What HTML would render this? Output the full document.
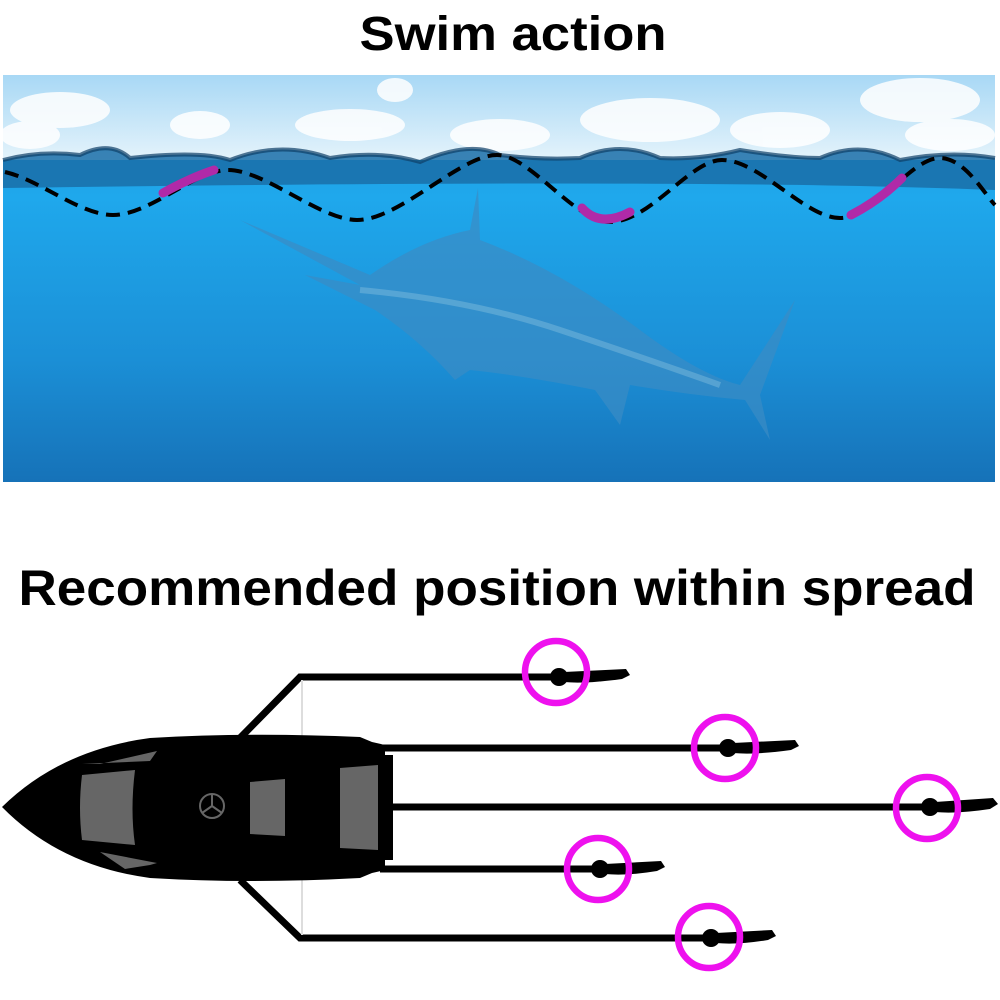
<!DOCTYPE html>
<html><head><meta charset="utf-8"><style>
html,body{margin:0;padding:0;background:#fff;}
svg{display:block}
</style></head><body>
<svg width="1000" height="1000" viewBox="0 0 1000 1000" xmlns="http://www.w3.org/2000/svg">
<defs>
<linearGradient id="sky" x1="0" y1="0" x2="0" y2="1">
<stop offset="0" stop-color="#a8d8f5"/><stop offset="1" stop-color="#e4f3fb"/>
</linearGradient>
<linearGradient id="water" x1="0" y1="0" x2="0" y2="1">
<stop offset="0" stop-color="#1c8fd6"/><stop offset="0.3" stop-color="#1fa8ec"/><stop offset="0.7" stop-color="#1b8fd6"/><stop offset="1" stop-color="#1672b8"/>
</linearGradient>
</defs>
<text x="513" y="50" text-anchor="middle" font-family="Liberation Sans, sans-serif" font-weight="bold" font-size="48" textLength="307" lengthAdjust="spacingAndGlyphs">Swim action</text>
<rect x="3" y="75" width="992" height="407" fill="url(#water)"/>
<rect x="3" y="75" width="992" height="85" fill="url(#sky)"/>
<g fill="#fff" opacity="0.85">
<ellipse cx="60" cy="110" rx="50" ry="18"/><ellipse cx="30" cy="135" rx="30" ry="14"/><ellipse cx="200" cy="125" rx="30" ry="14"/><ellipse cx="350" cy="125" rx="55" ry="16"/>
<ellipse cx="395" cy="90" rx="18" ry="12"/><ellipse cx="500" cy="135" rx="50" ry="16"/><ellipse cx="650" cy="120" rx="70" ry="22"/>
<ellipse cx="780" cy="130" rx="50" ry="18"/><ellipse cx="920" cy="100" rx="60" ry="22"/><ellipse cx="950" cy="135" rx="45" ry="16"/>
</g>
<path d="M3,160 Q40,150 80,155 Q110,140 130,158 Q200,150 230,160 Q280,140 330,158 Q380,150 420,162 Q470,140 500,155 Q540,160 580,158 Q620,140 660,158 Q700,160 740,150 Q790,158 820,158 Q860,140 900,160 Q950,150 995,158 L995,190 Q700,178 3,188 Z" fill="#1a6ea8" opacity="0.85"/>
<path d="M3,160 Q40,150 80,155 Q110,140 130,158 Q200,150 230,160 Q280,140 330,158 Q380,150 420,162 Q470,140 500,155 Q540,160 580,158 Q620,140 660,158 Q700,160 740,150 Q790,158 820,158 Q860,140 900,160 Q950,150 995,158" fill="none" stroke="#0e3f66" stroke-width="4" opacity="0.7"/>
<g fill="#3a8cc4" opacity="0.7">
<path d="M240,220 L370,275 Q420,240 470,230 L478,188 L480,240 Q560,270 640,330 Q700,375 740,385 L795,300 L760,395 L770,440 L745,400 Q690,395 630,385 L620,425 L595,390 Q520,375 470,370 L455,380 Q420,340 375,310 L305,275 L360,285 Z"/>
</g>
<path d="M360,290 Q470,300 560,330 Q650,360 720,385" stroke="#8fc6e0" stroke-width="6" fill="none" opacity="0.4"/>
<path d="M5,172 C40,180 80,215 113,215 C150,215 195,170 228,170 C265,170 320,220 357,220 C400,220 460,155 497,155 C530,155 575,222 610,222 C650,222 690,160 722,160 C760,160 805,218 840,218 C875,218 910,158 940,158 C965,158 985,195 995,205" fill="none" stroke="#000" stroke-width="4" stroke-dasharray="14,8"/>
<g stroke="#b02aa8" stroke-width="9" stroke-linecap="round" fill="none">
<path d="M163,193 Q190,178 214,170"/>
<path d="M582,208 Q600,228 630,212"/>
<path d="M851,215 Q880,200 902,178"/>
</g>
<text x="497" y="605" text-anchor="middle" font-family="Liberation Sans, sans-serif" font-weight="bold" font-size="50" textLength="957" lengthAdjust="spacingAndGlyphs">Recommended position within spread</text>
<g stroke="#000" stroke-width="7" fill="none">
<path d="M240,738 L300,677 L560,677"/>
<path d="M240,880 L300,938 L710,938"/>
<path d="M380,748 L728,748"/>
<path d="M380,807 L930,807"/>
<path d="M380,869 L600,869"/>
</g>
<path d="M302,680 L302,935" stroke="#ddd" stroke-width="2"/>
<path d="M2,807 Q60,750 150,738 Q250,732 360,737 L372,742 L385,745 L385,870 L372,873 L360,878 Q250,884 150,878 Q60,866 2,807 Z" fill="#000"/>
<rect x="380" y="755" width="13" height="105" fill="#000"/>
<g fill="#666">
<path d="M100,764 L157,751 L150,761 L82,764 Z"/>
<path d="M82,775 L135,770 Q130,810 135,845 L82,840 Q78,808 82,775 Z"/>
<path d="M100,852 L157,863 L150,865 L125,869 Z"/>
<path d="M250,782 L285,779 L285,836 L250,834 Z"/>
<path d="M340,768 L378,765 L378,850 L340,848 Z"/>
</g>
<circle cx="212" cy="806" r="12" fill="none" stroke="#666" stroke-width="2"/>
<path d="M212,806 L212,794 M212,806 L202,813 M212,806 L222,813" stroke="#666" stroke-width="2"/>
<g fill="#000">
<g transform="translate(556,677)"><ellipse cx="3" cy="0" rx="9" ry="9"/><path d="M8,-5 L70,-8 L74,-2 L66,2 Q30,7 8,5 Z"/></g>
<g transform="translate(725,748)"><ellipse cx="3" cy="0" rx="9" ry="9"/><path d="M8,-5 L70,-8 L74,-2 L66,2 Q30,7 8,5 Z"/></g>
<g transform="translate(927,807)"><ellipse cx="3" cy="0" rx="9" ry="9"/><path d="M8,-5 L66,-9 L71,-3 L63,2 Q30,7 8,5 Z"/></g>
<g transform="translate(597,869)"><ellipse cx="3" cy="0" rx="9" ry="9"/><path d="M8,-5 L64,-8 L68,-2 L60,2 Q30,7 8,5 Z"/></g>
<g transform="translate(708,938)"><ellipse cx="3" cy="0" rx="9" ry="9"/><path d="M8,-5 L64,-8 L68,-2 L60,2 Q30,7 8,5 Z"/></g>
</g>
<g fill="none" stroke="#ee11ee" stroke-width="6.5">
<circle cx="556" cy="672" r="31"/>
<circle cx="725" cy="748" r="31"/>
<circle cx="927" cy="808" r="31"/>
<circle cx="598" cy="869" r="31"/>
<circle cx="709" cy="937" r="31"/>
</g>
</svg>
</body></html>
